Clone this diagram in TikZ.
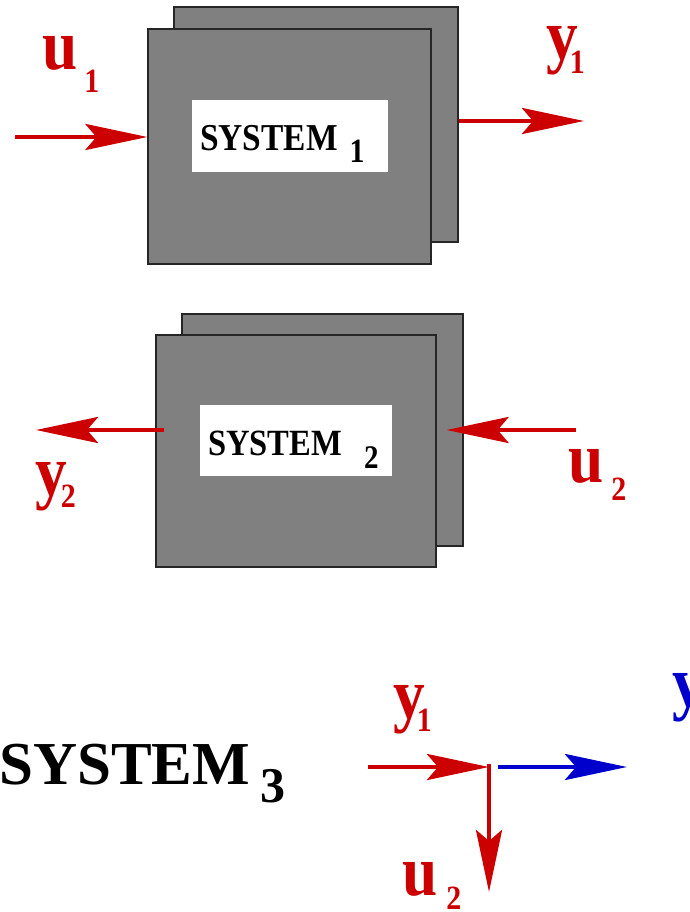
\documentclass[tikz,border=0pt]{standalone}
\usepackage{fontspec}
\setmainfont{Liberation Serif}
\newfontfamily\tallfont{Liberation Serif}[FakeStretch=0.88]
\usetikzlibrary{arrows.meta,calc}
\definecolor{sigred}{RGB}{204,0,0}
\definecolor{sigblue}{RGB}{0,0,204}
\newcommand{\sigtxt}[4]{#1\kern#4\raisebox{-#3}{\fontsize{34}{34}\selectfont #2}}

\begin{document}
\begin{tikzpicture}[x=1pt,y=-1pt,
  card/.style={draw=black!85,line width=1.2pt,fill=black!50,inner sep=0pt},
  plate/.style={fill=white,inner sep=0pt},
  boxtext/.style={inner sep=0pt,anchor=base west,font=\tallfont\bfseries\fontsize{38}{40}\selectfont},
  sig/.style={inner sep=0pt,anchor=base west,text=sigred,font=\tallfont\bfseries\fontsize{72}{72}\selectfont},
  flow/.style={line width=4.5pt,draw=sigred,-{Stealth[length=62pt,width=26pt,inset=11pt]}}]
\useasboundingbox (0,0) rectangle (690,912);

\node[card,minimum width=284pt,minimum height=235pt] (sysOneB) at (316,124.5) {};
\node[card,minimum width=283pt,minimum height=235pt] (sysOneF) at (289.5,146.5) {};
\node[plate,minimum width=196pt,minimum height=72pt] (plateOne) at (290,136) {};
\node[boxtext] (labOne) at (200,151) {SYSTEM\kern12pt\raisebox{-12pt}{\fontsize{34}{34}\selectfont 1}};

\node[card,minimum width=281pt,minimum height=232pt] (sysTwoB) at (322.5,430) {};
\node[card,minimum width=280pt,minimum height=232pt] (sysTwoF) at (296,451) {};
\node[plate,minimum width=192pt,minimum height=71pt] (plateTwo) at (296,440.5) {};
\node[boxtext,font=\tallfont\bfseries\fontsize{37}{40}\selectfont] (labTwo) at (208,455) {SYSTEM\kern22pt\raisebox{-13pt}{\fontsize{33}{33}\selectfont 2}};

\node[inner sep=0pt,anchor=base west,font=\bfseries\fontsize{61}{62}\selectfont] (labThree) at (-1,784) {SYSTEM\kern10pt\raisebox{-18pt}{\fontsize{50}{50}\selectfont 3}};

\coordinate (u1in) at (15,137);
\coordinate (y1out) at (584,121);
\coordinate (y2out) at (36,430);
\coordinate (u2in) at (576,430);
\draw[flow] (u1in) -- (u1in -| sysOneF.west);
\draw[flow] (y1out -| sysOneB.east) -- (y1out);
\draw[flow] ($(sysTwoF.west |- y2out)+(9,0)$) -- (y2out);
\draw[flow] (u2in) -- ($(sysTwoF.east |- u2in)+(10,0)$);

\coordinate (junc) at (489,767);
\coordinate (y1in) at (368,767);
\coordinate (y3out) at (627,767);
\coordinate (u2out) at (489,892);
\draw[flow] (y1in) -- (junc);
\draw[flow,draw=sigblue] ($(junc)+(9,0)$) -- (y3out);
\draw[flow] ($(junc)+(0,-3)$) -- (u2out);

\node[sig] (u1) at (42,70) {\sigtxt{u}{1}{23pt}{7pt}};
\node[sig] (y1) at (546,60) {\sigtxt{y}{1}{14pt}{-8pt}};
\node[sig] (y2) at (35,495) {\sigtxt{y}{2}{12pt}{-6pt}};
\node[sig] (u2) at (568,482) {\sigtxt{u}{2}{18pt}{8pt}};
\node[sig] (y1b) at (393,718) {\sigtxt{y}{1}{13pt}{-8pt}};
\node[sig] (u2b) at (402,895) {\sigtxt{u}{2}{14pt}{9pt}};
\node[sig,text=sigblue] (y3) at (672,706) {y};
\end{tikzpicture}
\end{document}
